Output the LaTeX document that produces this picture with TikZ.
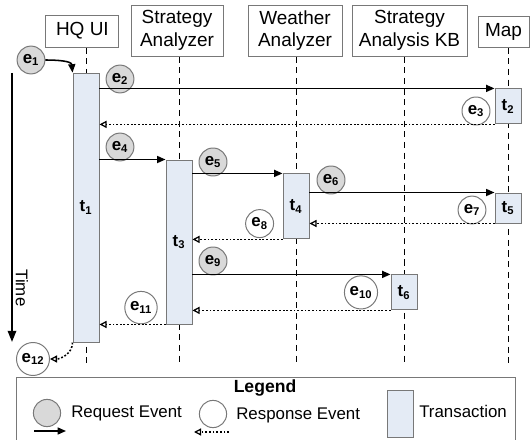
\documentclass[tikz,border=0pt]{standalone}
\usepackage{fontspec}
\setmainfont{Liberation Sans}
\usepackage{tikz}
\usetikzlibrary{arrows.meta,backgrounds}
\definecolor{reqfill}{RGB}{217,217,217}
\definecolor{txfill}{RGB}{228,235,245}
\definecolor{edgegray}{RGB}{120,120,120}
\newcommand{\evfont}{\fontsize{12}{14}\selectfont\bfseries}
\newcommand{\legfont}{\fontsize{12}{14}\selectfont}
\newcommand{\lw}{1.1pt}

\begin{document}
\begin{tikzpicture}[
  actor/.style={draw=edgegray, line width=0.7pt, align=center, font=\fontsize{13.5}{16}\selectfont},
  tx/.style={draw=edgegray, fill=txfill, line width=0.7pt, minimum width=0.65cm, font=\evfont},
  req/.style={circle, draw=edgegray, fill=reqfill, line width=0.7pt, minimum size=0.64cm, inner sep=2pt, font=\evfont},
  resp/.style={req, fill=white},
  call/.style={-{Triangle[length=6pt,width=5pt]}, line width=\lw},
  reply/.style={-{Triangle[open,length=5pt,width=5pt,line width=0.9pt]}, line width=\lw, dash pattern=on 1.3pt off 1.3pt},
  lifeline/.style={dash pattern=on 4.3pt off 3.3pt, line width=0.7pt},
  legtext/.style={anchor=west, inner sep=0pt, font=\legfont}
]
\useasboundingbox (0,0) rectangle (13.3,-11);
\coordinate (bot) at (0,-9.1);

%heads
\node[actor, minimum width=1.825cm, minimum height=0.8cm] (hq) at (2.06,-0.775) {HQ UI};
\node[actor, minimum width=2.3cm, minimum height=1.275cm] (sa) at (4.425,-0.7625) {Strategy\\Analyzer};
\node[actor, minimum width=2.35cm, minimum height=1.275cm] (wa) at (7.375,-0.7625) {Weather\\Analyzer};
\node[actor, minimum width=2.875cm, minimum height=1.275cm] (kb) at (10.2375,-0.7625) {Strategy\\Analysis KB};
\node[actor, minimum width=1.275cm, minimum height=0.775cm] (map) at (12.5875,-0.7875) {Map};

%transactions
\node[tx, minimum height=6.725cm] (t1) at (2.15,-5.19) {t\textsubscript{1}};
\node[tx, minimum height=0.875cm] (t2) at (12.7,-2.66) {t\textsubscript{2}};
\node[tx, minimum height=4.1cm] (t3) at (4.475,-6.05) {t\textsubscript{3}};
\node[tx, minimum height=1.625cm] (t4) at (7.4,-5.16) {t\textsubscript{4}};
\node[tx, minimum height=0.75cm] (t5) at (12.7,-5.2) {t\textsubscript{5}};
\node[tx, minimum height=0.875cm] (t6) at (10.1,-7.31) {t\textsubscript{6}};

\begin{scope}[on background layer]
\draw[lifeline] (hq.south -| t1) -- (t1 |- bot);
\draw[lifeline] (sa.south -| t3) -- (t3 |- bot);
\draw[lifeline] (wa.south -| t4) -- (t4 |- bot);
\draw[lifeline] (kb.south -| t6) -- (t6 |- bot);
\draw[lifeline] (map.south -| t2) -- (t2 |- bot);
\end{scope}

%events
\node[req] (e1) at (0.775,-1.5) {e\textsubscript{1}};
\node[req] (e2) at (3.0,-1.975) {e\textsubscript{2}};
\node[resp] (e3) at (11.9,-2.775) {e\textsubscript{3}};
\node[req] (e4) at (3.0,-3.675) {e\textsubscript{4}};
\node[req] (e5) at (5.325,-4.05) {e\textsubscript{5}};
\node[req] (e6) at (8.275,-4.5) {e\textsubscript{6}};
\node[resp] (e7) at (11.8,-5.25) {e\textsubscript{7}};
\node[resp] (e8) at (6.49,-5.59) {e\textsubscript{8}};
\node[req] (e9) at (5.325,-6.525) {e\textsubscript{9}};
\node[resp] (e10) at (9.025,-7.31) {e\textsubscript{10}};
\node[resp] (e11) at (3.525,-7.69) {e\textsubscript{11}};
\node[resp] (e12) at (0.825,-8.975) {e\textsubscript{12}};

\draw[call] (e1.east) to[out=0,in=95] (t1.north west);
\draw[call] (t1.east |- t2.north west) -- (t2.north west);
\draw[reply] (t2.south west) -- (t1.east |- t2.south west);
\draw[call] (t1.east |- t3.north west) -- (t3.north west);
\draw[call] (t3.east |- t4.north west) -- (t4.north west);
\draw[call] (t4.east |- t5.north west) -- (t5.north west);
\draw[reply] (t5.south west) -- (t4.east |- t5.south west);
\draw[reply] (t4.south west) -- (t3.east |- t4.south west);
\draw[call] (t3.east |- t6.north west) -- (t6.north west);
\draw[reply] (t6.south west) -- (t3.east |- t6.south west);
\draw[reply] (t3.south west) -- (t1.east |- t3.south west);
\draw[reply] (t1.south west) to[out=-90,in=0] (e12.east);

%time axis
\coordinate (ttop) at (0.3,-1.825);
\coordinate (tbot) at (0.3,-8.55);
\draw[-{Triangle[length=8pt,width=6pt]}, line width=1.4pt] (ttop) -- (tbot);
\node[rotate=-90, font=\legfont] (time) at (0.55,-7.2) {Time};

%legend
\node[draw=edgegray, line width=0.7pt, minimum width=12.475cm, minimum height=1.8cm, anchor=north west] (legend) at (0.4,-9.425) {};
\node[font=\fontsize{12.5}{15}\selectfont\bfseries] (ltitle) at (6.625,-9.7) {Legend};
\node[req, minimum size=0.68cm] (lreq) at (1.175,-10.325) {};
\node[legtext] (lreqtxt) at (1.775,-10.325) {Request Event};
\coordinate (lca) at (0.85,-10.775);
\coordinate (lcb) at (1.65,-10.775);
\draw[call] (lca) -- (lcb);
\node[resp, minimum size=0.68cm] (lresp) at (5.325,-10.35) {};
\node[legtext] (lresptxt) at (5.9,-10.375) {Response Event};
\coordinate (lra) at (5.725,-10.8);
\coordinate (lrb) at (4.85,-10.8);
\draw[reply] (lra) -- (lrb);
\node[tx, minimum height=1.175cm] (ltx) at (10.0,-10.36) {};
\node[legtext] (ltxtxt) at (10.475,-10.275) {Transaction};
\end{tikzpicture}
\end{document}
